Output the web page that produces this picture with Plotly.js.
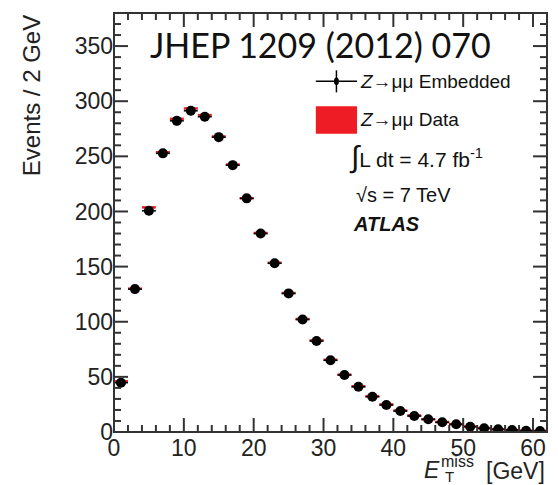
<!DOCTYPE html>
<html><head><meta charset="utf-8">
<script src="https://cdn.plot.ly/plotly-3.0.1.min.js"></script>
<style>body{margin:0;background:#fff}#c{width:558px;height:485px}</style>
</head><body><div id="c"></div>
<script>
const binCenters = [1,3,5,7,9,11,13,15,17,19,21,23,25,27,29,31,33,35,37,39,41,43,45,47,49,51,53,55,57,59,61];
const embedded = [44.7,129.6,200.6,252.7,282.2,291.3,285.9,267.4,242,211.9,180,153,125.7,102,82.5,65,51.7,41,32,24.5,19,14.5,11.5,8.8,7,4.8,3.3,2.4,1.8,1.2,0.9];
const embeddedErr = [2.5,3.5,4,4,4,4,4,4,4,3.5,3.5,3,3,2.5,2.5,2,2,2,1.5,1.5,1.2,1.2,1,1,0.8,0.7,0.6,0.5,0.4,0.3,0.3];
const data = [46,130,203.7,253.7,284,293.4,287.4,268,242.5,212,180.5,153.5,126,102.5,83,65.5,52,41.5,32.5,25,19.5,15,11.5,9,7,5,3.5,2.5,1.8,1.2,1];
const binWidth = 2;
const xRange = [0,62], yRange = [0,380];
const xMajorTicks = [0,10,20,30,40,50,60];
const xMinorTicks = [2,4,6,8,12,14,16,18,22,24,26,28,32,34,36,38,42,44,46,48,52,54,56,58,62];
const yMajorTicks = [0,50,100,150,200,250,300,350];
const yMinorTicks = [10,20,30,40,60,70,80,90,110,120,130,140,160,170,180,190,210,220,230,240,260,270,280,290,310,320,330,340,360,370,380];

const F = "Liberation Sans, Arial, sans-serif";
const axisCol = "#333";
const clear = "rgba(0,0,0,0)";

const traces = [
  {type:'scatter', mode:'markers', x:binCenters, y:data,
   marker:{color:clear, size:1},
   error_x:{type:'constant', value:binWidth/2, width:0, thickness:2.5, color:'#ee1c25'},
   showlegend:false, hoverinfo:'skip'},
  {type:'scatter', mode:'markers', x:binCenters, y:embedded,
   marker:{color:'#000', size:10, symbol:'circle'},
   error_x:{type:'constant', value:binWidth/2, width:0, thickness:1.5, color:'#000'},
   error_y:{type:'data', array:embeddedErr, width:0, thickness:1.5, color:'#000'},
   showlegend:false}
];

// plot area in px: width 433, height 419
const PW = 433, PH = 419, MAJ = 14, MIN = 7;
const tickShapes = [];
function xTick(v, len){
  const h = len/PH;
  tickShapes.push({type:'line', xref:'x', yref:'paper', x0:v, x1:v, y0:0, y1:h, line:{color:axisCol, width:2}});
  tickShapes.push({type:'line', xref:'x', yref:'paper', x0:v, x1:v, y0:1, y1:1-h, line:{color:axisCol, width:2}});
}
function yTick(v, len){
  const w = len/PW;
  tickShapes.push({type:'line', xref:'paper', yref:'y', x0:0, x1:w, y0:v, y1:v, line:{color:axisCol, width:2}});
  tickShapes.push({type:'line', xref:'paper', yref:'y', x0:1, x1:1-w, y0:v, y1:v, line:{color:axisCol, width:2}});
}
xMajorTicks.forEach(v=>xTick(v, MAJ));
xMinorTicks.forEach(v=>xTick(v, MIN));
yMajorTicks.forEach(v=>yTick(v, MAJ));
yMinorTicks.forEach(v=>yTick(v, MIN));

const labelFont = {family:F, size:23, color:'#222'};
const layout = {
  width:558, height:485, margin:{l:114, r:11, t:13, b:53},
  paper_bgcolor:'#fff', plot_bgcolor:'#fff', showlegend:false,
  xaxis: {range:xRange, tickvals:xMajorTicks, ticks:'', showgrid:false, zeroline:false,
    showline:false, tickfont:labelFont},
  yaxis: {range:yRange, tickvals:yMajorTicks, ticks:'', showgrid:false, zeroline:false,
    showline:false, tickfont:labelFont},
  shapes: [
    {type:'rect', xref:'paper', yref:'paper', x0:0, x1:1, y0:0, y1:1, line:{color:axisCol, width:2}, fillcolor:clear},
    ...tickShapes,
    {type:'line', xref:'x', yref:'y', x0:28.9, x1:34.8, y0:318, y1:318, line:{color:'#000', width:1.5}},
    {type:'line', xref:'x', yref:'y', x0:31.85, x1:31.85, y0:308, y1:328, line:{color:'#000', width:1.5}},
    {type:'circle', xref:'x', yref:'y', x0:31.5, x1:32.2, y0:314.5, y1:321.5, fillcolor:'#000', line:{color:'#000', width:0}},
    {type:'rect', xref:'x', yref:'y', x0:28.9, x1:34.8, y0:270.5, y1:295.5, fillcolor:'#ee1c25', line:{width:0}}
  ],
  annotations:[
    {text:'JHEP 1209 (2012) 070', xref:'x', yref:'y', x:29.5, y:351, showarrow:false,
     font:{family:'Liberation Sans Narrow, Lato, sans-serif', size:34, color:'#111'}},
    {text:'<i>Z</i>→μμ Embedded', xref:'x', yref:'y', x:34.9, y:318, xanchor:'left', showarrow:false,
     font:{family:F, size:19, color:'#111'}},
    {text:'<i>Z</i>→μμ Data', xref:'x', yref:'y', x:34.9, y:283, xanchor:'left', showarrow:false,
     font:{family:F, size:19, color:'#111'}},
    {text:'<span style="font-size:30px">∫</span>L dt = 4.7 fb<sup>-1</sup>', xref:'x', yref:'y', x:33.4, y:249, xanchor:'left', showarrow:false,
     font:{family:F, size:21, color:'#111'}},
    {text:'√s = 7 TeV', xref:'x', yref:'y', x:34.4, y:215, xanchor:'left', showarrow:false,
     font:{family:F, size:20, color:'#111'}},
    {text:'<b><i>ATLAS</i></b>', xref:'x', yref:'y', x:34.0, y:188.6, xanchor:'left', showarrow:false,
     font:{family:F, size:20, color:'#111'}},
    {text:'Events / 2 GeV', xref:'paper', yref:'paper', x:-0.19, y:1.0, xanchor:'center', yanchor:'top',
     textangle:-90, showarrow:false, font:{family:F, size:24, color:'#222'}},
    {text:'<i>E</i>', xref:'paper', yref:'paper', x:(422-114)/433, y:(432-470)/419, xanchor:'left', yanchor:'middle',
     showarrow:false, font:{family:F, size:23, color:'#222'}},
    {text:'miss', xref:'paper', yref:'paper', x:(439-114)/433, y:(432-461)/419, xanchor:'left', yanchor:'middle',
     showarrow:false, font:{family:F, size:16, color:'#222'}},
    {text:'T', xref:'paper', yref:'paper', x:(443-114)/433, y:(432-477)/419, xanchor:'left', yanchor:'middle',
     showarrow:false, font:{family:F, size:15, color:'#222'}},
    {text:'[GeV]', xref:'paper', yref:'paper', x:1.0, y:(432-471)/419, xanchor:'right', yanchor:'middle',
     showarrow:false, font:{family:F, size:23, color:'#222'}}
  ]
};
Plotly.newPlot('c', traces, layout, {staticPlot:true});
</script></body></html>
